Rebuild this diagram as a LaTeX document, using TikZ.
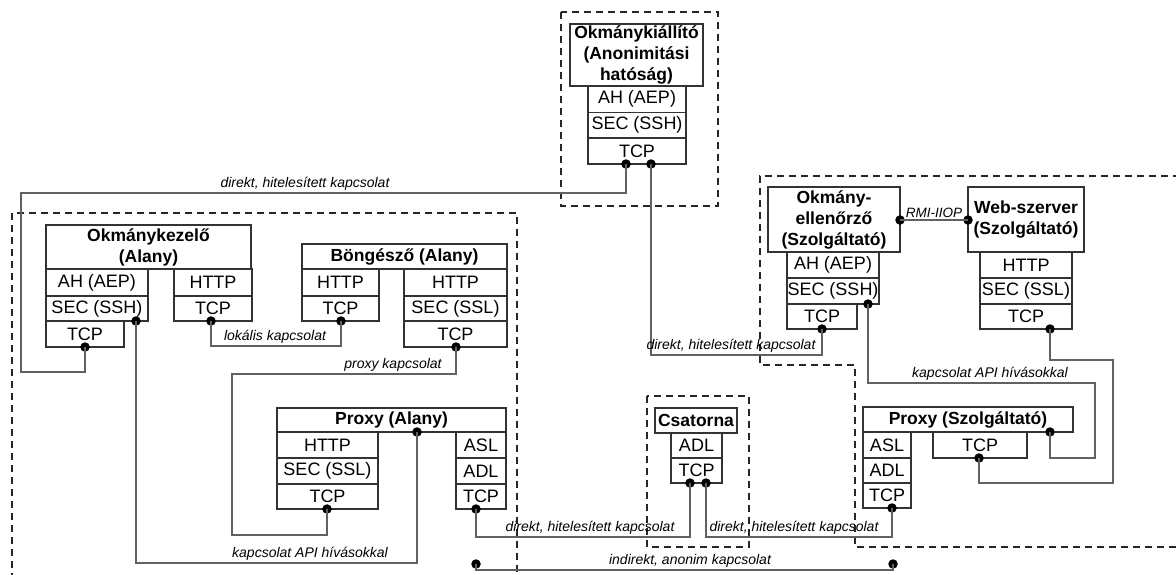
\documentclass[tikz,border=0pt]{standalone}
\usepackage{fontspec}
\setmainfont{Liberation Sans}
\tikzset{
 bx/.style={draw=black!80, line width=1.3pt, inner sep=0pt, font=\fontsize{18}{21}\selectfont},
 ttl/.style={bx, font=\bfseries\fontsize{17.5}{21}\selectfont, align=center},
 con/.style={draw=black!62, line width=1.3pt},
 lbl/.style={font=\itshape\fontsize{14}{16}\selectfont, inner sep=1pt, anchor=south},
 dot/.style={circle, fill=black, inner sep=0pt, minimum size=9.5pt},
 grp/.style={draw=black!85, line width=1.2pt, dash pattern=on 7pt off 5pt},
}
\newcommand\mybox[7]{\node[#1, minimum width={(#5-#3)*1pt}, minimum height={(#6-#4)*1pt}] (#2) at ({(#3+#5)/2},{(#4+#6)/2}) {#7};}
\begin{document}
\begin{tikzpicture}[x=1pt,y=-1pt]
\useasboundingbox[fill=white] (0,0) rectangle (1176,574);
% groups
\draw[grp] (561,12) rectangle (718,206);
\draw[grp] (12,580) -- (12,213) -- (517,213) -- (517,580);
\draw[grp] (647,396) rectangle (749,547);
\draw[grp] (1180,176) -- (760,176) -- (760,365) -- (855,365) -- (855,547) -- (1180,547);
% Okmanykiallito
\mybox{ttl}{kiT}{570}{24}{703}{86}{Okmánykiállító\\(Anonimitási\\hatóság)}
\mybox{bx}{kiAH}{588}{86}{686}{112.5}{AH (AEP)}
\mybox{bx}{kiSEC}{588}{112.5}{686}{138}{SEC (SSH)}
\mybox{bx}{kiTCP}{588}{138}{686}{164}{TCP}
% Okmanykezelo
\mybox{ttl}{kzT}{46}{225}{251}{269}{Okmánykezelő\\(Alany)}
\mybox{bx}{kzAH}{46}{269}{148}{296}{AH (AEP)}
\mybox{bx}{kzSEC}{46}{296}{148}{321}{SEC (SSH)}
\mybox{bx}{kzTCP}{46}{321}{124}{347}{TCP}
\mybox{bx}{kzHTTP}{174}{269}{252}{296}{HTTP}
\mybox{bx}{kzTCPb}{174}{296}{252}{321}{TCP}
% Bongeszo
\mybox{ttl}{bT}{302}{244}{507}{269}{Böngésző (Alany)}
\mybox{bx}{bHTTPa}{302}{269}{379}{296}{HTTP}
\mybox{bx}{bTCPa}{302}{296}{379}{321}{TCP}
\mybox{bx}{bHTTPb}{404}{269}{507}{296}{HTTP}
\mybox{bx}{bSEC}{404}{296}{507}{321}{SEC (SSL)}
\mybox{bx}{bTCPb}{404}{321}{507}{347}{TCP}
% Proxy Alany
\mybox{ttl}{paT}{277}{408}{506}{432}{Proxy (Alany)}
\mybox{bx}{paHTTP}{277}{432}{378}{458}{HTTP}
\mybox{bx}{paSEC}{277}{458}{378}{484}{SEC (SSL)}
\mybox{bx}{paTCPa}{277}{484}{378}{509}{TCP}
\mybox{bx}{paASL}{456}{432}{506}{458}{ASL}
\mybox{bx}{paADL}{456}{458}{506}{484}{ADL}
\mybox{bx}{paTCPb}{456}{484}{506}{509}{TCP}
% Csatorna
\mybox{ttl}{csT}{655}{408}{737}{433}{Csatorna}
\mybox{bx}{csADL}{671}{433}{722}{458}{ADL}
\mybox{bx}{csTCP}{671}{458}{722}{483}{TCP}
% Okmany-ellenorzo
\mybox{ttl}{oeT}{768}{187}{900}{252}{Okmány-\\ellenőrző\\(Szolgáltató)}
\mybox{bx}{oeAH}{787}{252}{879}{278}{AH (AEP)}
\mybox{bx}{oeSEC}{787}{278}{879}{304}{SEC (SSH)}
\mybox{bx}{oeTCP}{787}{304}{857}{329}{TCP}
% Web-szerver
\mybox{ttl}{wsT}{968}{187}{1084}{252}{Web-szerver\\(Szolgáltató)}
\mybox{bx}{wsHTTP}{980}{252}{1072}{278}{HTTP}
\mybox{bx}{wsSEC}{980}{278}{1072}{304}{SEC (SSL)}
\mybox{bx}{wsTCP}{980}{304}{1072}{329}{TCP}
% Proxy Szolgaltato
\mybox{ttl}{psT}{863}{407}{1073}{432}{Proxy (Szolgáltató)}
\mybox{bx}{psASL}{863}{432}{911}{458}{ASL}
\mybox{bx}{psADL}{863}{458}{911}{483}{ADL}
\mybox{bx}{psTCPa}{863}{483}{911}{508}{TCP}
\mybox{bx}{psTCPb}{933}{432}{1027}{458}{TCP}
% dots
\node[dot] (kiD1) at (626,164) {};
\node[dot] (kiD2) at (651,164) {};
\node[dot] (kzD1) at (85,347) {};
\node[dot] (kzD2) at (136,321) {};
\node[dot] (kzD3) at (211,321) {};
\node[dot] (bD1) at (341,321) {};
\node[dot] (bD2) at (456,347) {};
\node[dot] (paD1) at (327,509) {};
\node[dot] (paD2) at (476,509) {};
\node[dot] (paD3) at (417,432) {};
\node[dot] (inD1) at (476,564) {};
\node[dot] (inD2) at (893,564) {};
\node[dot] (csD1) at (690,483) {};
\node[dot] (csD2) at (706,483) {};
\node[dot] (oeD1) at (822,329) {};
\node[dot] (oeD2) at (868,304) {};
\node[dot] (oeD3) at (900,220) {};
\node[dot] (wsD1) at (968,220) {};
\node[dot] (wsD2) at (1050,329) {};
\node[dot] (psD1) at (892,508) {};
\node[dot] (psD2) at (979,458) {};
\node[dot] (psD3) at (1050,432) {};
% bend coordinates
\coordinate (c1a) at (21,193);
\coordinate (c1b) at (21,372);
\coordinate (c5a) at (232,374);
\coordinate (c5b) at (232,535);
\coordinate (c10a) at (1095,383);
\coordinate (c10b) at (1095,458);
\coordinate (c11a) at (1113,360);
\coordinate (c11b) at (1113,483);
% connectors
\draw[con] (kiD1.center) |- (c1a) -- (c1b) -| (kzD1.center);
\draw[con] (kiD2.center) -- (kiD2.center |- 0,355) -| (oeD1.center);
\draw[con] (kzD2.center) -- (kzD2.center |- 0,563) -| (paD3.center);
\draw[con] (kzD3.center) -- (kzD3.center |- 0,346) -| (bD1.center);
\draw[con] (bD2.center) |- (c5a) -- (c5b) -| (paD1.center);
\draw[con] (paD2.center) -- (paD2.center |- 0,537) -| (csD1.center);
\draw[con] (csD2.center) -- (csD2.center |- 0,537) -| (psD1.center);
\draw[con] (inD1.center) -- (inD1.center |- 0,570) -| (inD2.center);
\draw[con] (oeD3.center) -- (wsD1.center);
\draw[con] (oeD2.center) |- (c10a) -- (c10b) -| (psD3.center);
\draw[con] (wsD2.center) |- (c11a) -- (c11b) -| (psD2.center);
% labels
\node[lbl] (l1) at (305,192) {direkt, hitelesített kapcsolat};
\node[lbl] (l2) at (731,354) {direkt, hitelesített kapcsolat};
\node[lbl] (l3) at (310,562) {kapcsolat API hívásokkal};
\node[lbl] (l4) at (275,345) {lokális kapcsolat};
\node[lbl] (l5) at (393,373) {proxy kapcsolat};
\node[lbl] (l6) at (590,536) {direkt, hitelesített kapcsolat};
\node[lbl] (l7) at (794,536) {direkt, hitelesített kapcsolat};
\node[lbl] (l8) at (690,569) {indirekt, anonim kapcsolat};
\node[lbl, font=\itshape\fontsize{13.5}{15}\selectfont] (l9) at (934,219) {RMI-IIOP};
\node[lbl] (l10) at (990,382) {kapcsolat API hívásokkal};
\end{tikzpicture}
\end{document}
